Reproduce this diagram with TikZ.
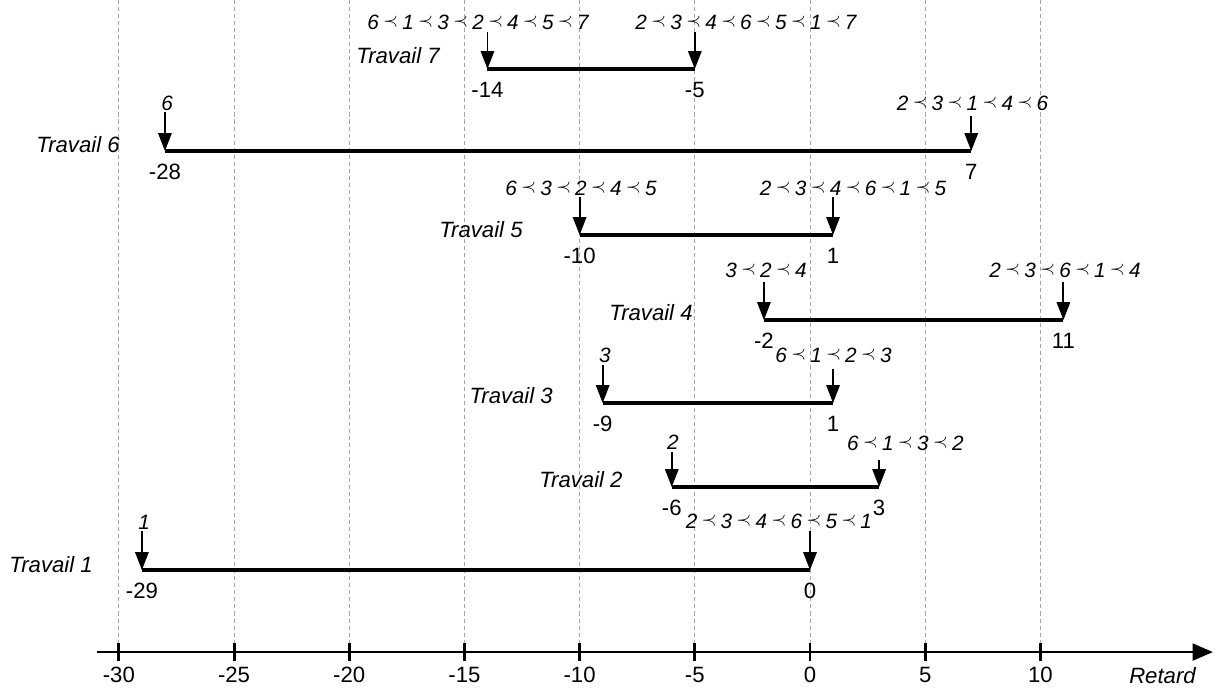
\documentclass[tikz,border=0pt]{standalone}
\usepackage{fontspec}
\setmainfont{Liberation Sans}
\usetikzlibrary{arrows.meta}
\newcommand\pprec{\hspace{2.4pt}\raisebox{1.6pt}{\fontsize{10.5}{10.5}\selectfont$\prec$}\hspace{2.4pt}}

\tikzset{
	job/.style={font=\fontsize{12.6}{14}\selectfont\itshape, anchor=base east, inner sep=0pt},
	val/.style={font=\fontsize{12.6}{14}\selectfont, anchor=base, inner sep=0pt},
	seq/.style={font=\fontsize{11.8}{13}\selectfont\itshape, anchor=base, inner sep=0pt},
	bar/.style={line width=1.9pt},
	ptr/.style={line width=1.1pt, -{Triangle[length=10.2pt,width=7.6pt]}},
	axis/.style={line width=1.5pt, -{Triangle[length=11.5pt,width=9.5pt]}},
	tick/.style={line width=1.7pt},
	gridline/.style={gray!70, line width=0.5pt, dash pattern=on 2.3pt off 1.7pt}
}

\begin{document}
\begin{tikzpicture}[x=0.4608cm, y=-0.02cm]
	\useasboundingbox (-35.16,0) rectangle (17.58,687);
	% Grid
	\foreach \t in {-30,-25,...,10}
		\draw[gridline] (\t,0) -- (\t,652);
	% Axis
	\coordinate (ax0) at (-30.95,652);
	\coordinate (ax1) at (17.49,652);
	\draw[axis] (ax0) -- (ax1);
	\foreach \t in {-30,-25,...,10} {
		\draw[tick] (\t,643) -- (\t,661);
		\node[val] (tl\t) at (\t,682) {\t};
	}
	\node[job, anchor=base] (ret) at (15.30,683) {Retard};
	% Travail 7
	\coordinate (a7l) at (-14,69); \coordinate (a7r) at (-5,69);
	\coordinate (p7l) at (-14,32); \coordinate (p7r) at (-5,32);
	\draw[bar] (a7l) -- (a7r);
	\draw[ptr] (p7l) -- (a7l);
	\draw[ptr] (p7r) -- (a7r);
	\node[job] (t7) at (-16.06,63) {Travail 7};
	\node[seq] (s7l) at (-14.41,29) {6\pprec1\pprec3\pprec2\pprec4\pprec5\pprec7};
	\node[seq] (s7r) at (-2.78,29) {2\pprec3\pprec4\pprec6\pprec5\pprec1\pprec7};
	\node[val] (v7l) at (-14,97.5) {-14};
	\node[val] (v7r) at (-5,97.5) {-5};
	% Travail 6
	\coordinate (a6l) at (-28,151); \coordinate (a6r) at (7,151);
	\coordinate (p6l) at (-28,112); \coordinate (p6r) at (7,116);
	\draw[bar] (a6l) -- (a6r);
	\draw[ptr] (p6l) -- (a6l);
	\draw[ptr] (p6r) -- (a6r);
	\node[job] (t6) at (-29.95,152) {Travail 6};
	\node[seq] (s6l) at (-27.9,110) {6};
	\node[seq] (s6r) at (7.05,110) {2\pprec3\pprec1\pprec4\pprec6};
	\node[val] (v6l) at (-28,179.5) {-28};
	\node[val] (v6r) at (7,179.5) {7};
	% Travail 5
	\coordinate (a5l) at (-10,235); \coordinate (a5r) at (1,235);
	\coordinate (p5l) at (-10,197); \coordinate (p5r) at (1,197);
	\draw[bar] (a5l) -- (a5r);
	\draw[ptr] (p5l) -- (a5l);
	\draw[ptr] (p5r) -- (a5r);
	\node[job] (t5) at (-12.46,237) {Travail 5};
	\node[seq] (s5l) at (-9.94,195) {6\pprec3\pprec2\pprec4\pprec5};
	\node[seq] (s5r) at (1.87,195) {2\pprec3\pprec4\pprec6\pprec1\pprec5};
	\node[val] (v5l) at (-10,263.5) {-10};
	\node[val] (v5r) at (1,263.5) {1};
	% Travail 4
	\coordinate (a4l) at (-2,320); \coordinate (a4r) at (11,320);
	\coordinate (p4l) at (-2,282); \coordinate (p4r) at (11,282);
	\draw[bar] (a4l) -- (a4r);
	\draw[ptr] (p4l) -- (a4l);
	\draw[ptr] (p4r) -- (a4r);
	\node[job] (t4) at (-5.08,320) {Travail 4};
	\node[seq] (s4l) at (-1.91,277) {3\pprec2\pprec4};
	\node[seq] (s4r) at (11.07,277) {2\pprec3\pprec6\pprec1\pprec4};
	\node[val] (v4l) at (-2,348.5) {-2};
	\node[val] (v4r) at (11,348.5) {11};
	% Travail 3
	\coordinate (a3l) at (-9,403); \coordinate (a3r) at (1,403);
	\coordinate (p3l) at (-9,365); \coordinate (p3r) at (1,369);
	\draw[bar] (a3l) -- (a3r);
	\draw[ptr] (p3l) -- (a3l);
	\draw[ptr] (p3r) -- (a3r);
	\node[job] (t3) at (-11.15,403) {Travail 3};
	\node[seq] (s3l) at (-8.9,362) {3};
	\node[seq] (s3r) at (1.02,362) {6\pprec1\pprec2\pprec3};
	\node[val] (v3l) at (-9,431.5) {-9};
	\node[val] (v3r) at (1,431.5) {1};
	% Travail 2
	\coordinate (a2l) at (-6,487); \coordinate (a2r) at (3,487);
	\coordinate (p2l) at (-6,452); \coordinate (p2r) at (3,460);
	\draw[bar] (a2l) -- (a2r);
	\draw[ptr] (p2l) -- (a2l);
	\draw[ptr] (p2r) -- (a2r);
	\node[job] (t2) at (-8.12,487) {Travail 2};
	\node[seq] (s2l) at (-5.95,449) {2};
	\node[seq] (s2r) at (4.14,450) {6\pprec1\pprec3\pprec2};
	\node[val] (v2l) at (-6,515.5) {-6};
	\node[val] (v2r) at (3,515.5) {3};
	% Travail 1
	\coordinate (a1l) at (-29,570); \coordinate (a1r) at (0,570);
	\coordinate (p1l) at (-29,531); \coordinate (p1r) at (0,531);
	\draw[bar] (a1l) -- (a1r);
	\draw[ptr] (p1l) -- (a1l);
	\draw[ptr] (p1r) -- (a1r);
	\node[job] (t1) at (-31.12,572) {Travail 1};
	\node[seq] (s1l) at (-28.9,529) {1};
	\node[seq] (s1r) at (-1.35,528) {2\pprec3\pprec4\pprec6\pprec5\pprec1};
	\node[val] (v1l) at (-29,598.5) {-29};
	\node[val] (v1r) at (0,598.5) {0};
\end{tikzpicture}
\end{document}
